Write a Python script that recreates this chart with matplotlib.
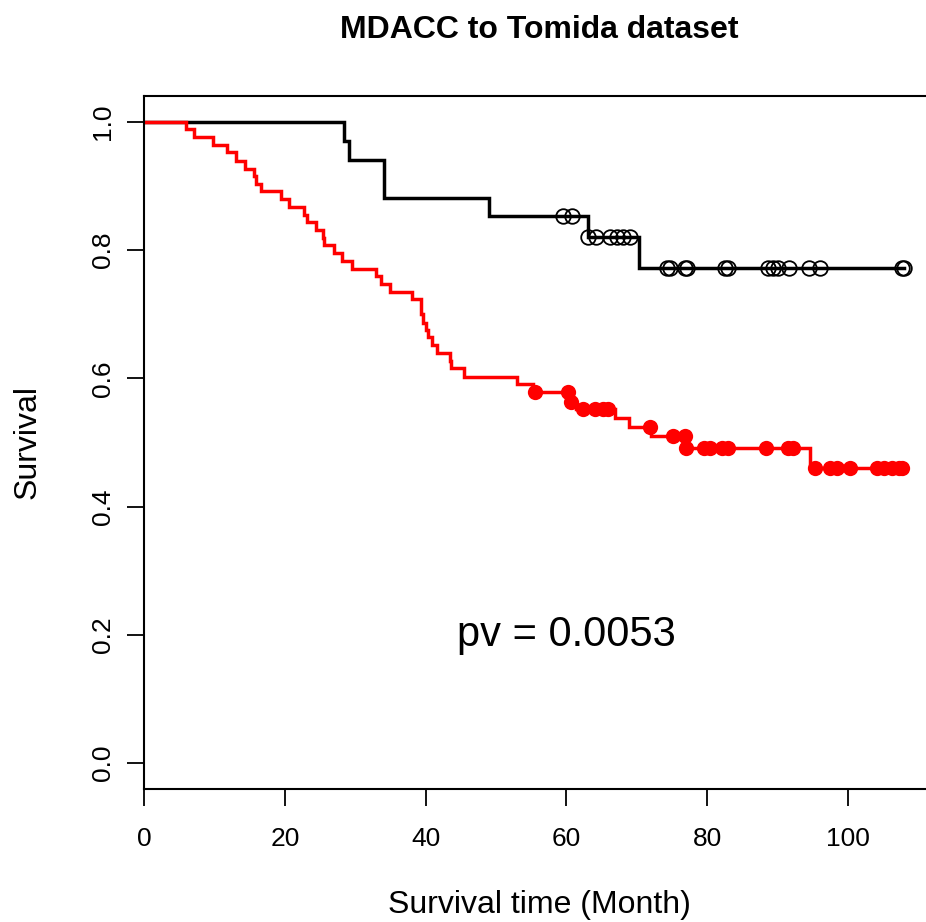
import numpy as np
import matplotlib
matplotlib.use("Agg")
import matplotlib.pyplot as plt

plt.rcParams['font.family'] = ['Liberation Sans', 'DejaVu Sans']

# ---- data ----
black_times = [0, 28.4, 29.1, 34.1, 49.0, 63.0, 70.3]
black_surv = [1.0, 0.970, 0.941, 0.882, 0.853, 0.821, 0.772]
black_censor = [59.5, 60.8, 63.1, 64.2, 66.2, 67.2, 68.0, 69.0,
                74.3, 74.7, 76.8, 77.1, 82.5, 82.9, 88.6, 89.3, 90.1,
                91.6, 94.5, 96.0, 107.6, 107.9]

red_times = [0, 5.9, 7.1, 9.85, 11.8, 13.0, 14.4, 15.6, 15.9, 16.6, 19.4,
             20.6, 22.7, 23.1, 24.4, 25.4, 25.6, 27.0, 28.1, 29.6, 33.0,
             33.6, 35.0, 38.1, 39.3, 39.6, 40.0, 40.3, 40.9, 41.6, 43.4,
             43.6, 45.5, 53.0, 55.3, 60.5, 61.3, 66.9, 68.9, 72.0, 76.9, 94.6]
red_surv = [1.0, 0.9886, 0.9766, 0.964, 0.9526, 0.9396, 0.927, 0.9158, 0.904,
            0.893, 0.880, 0.868, 0.855, 0.8435, 0.8315, 0.8195, 0.8077, 0.795,
            0.783, 0.771, 0.760, 0.747, 0.735, 0.7234, 0.700, 0.687, 0.6755,
            0.664, 0.6516, 0.640, 0.627, 0.6157, 0.6026, 0.591, 0.579, 0.5637,
            0.552, 0.5377, 0.5246, 0.510, 0.491, 0.460]
red_censor = [55.6, 60.2, 60.7, 62.4, 64.1, 65.2, 65.9, 71.8, 75.2, 76.8,
              77.0, 79.5, 80.4, 82.1, 82.9, 88.4, 91.5, 92.2, 95.3, 97.4,
              98.4, 100.2, 104.1, 105.1, 106.3, 107.2, 107.6]

x_ticks = [0, 20, 40, 60, 80, 100]
y_ticks = [0.0, 0.2, 0.4, 0.6, 0.8, 1.0]
title = "MDACC to Tomida dataset"
xlabel = "Survival time (Month)"
ylabel = "Survival"
pv_text = "pv = 0.0053"


def surv_at(times, surv, t):
    idx = np.searchsorted(np.asarray(times), np.asarray(t), side='right') - 1
    return np.asarray(surv)[idx]


W, H = 926, 922
fig = plt.figure(figsize=(W / 100, H / 100), dpi=100)
ax = fig.add_axes([144 / W, 1 - 789 / H, 790.7 / W, (789 - 96) / H])

for times, surv, cens, col, filled in [
        (black_times, black_surv, black_censor, 'black', False),
        (red_times, red_surv, red_censor, '#ff0000', True)]:
    t_end = max(cens)
    tt = list(times) + [t_end]
    ss = list(surv) + [surv[-1]]
    ax.step(tt, ss, where='post', color=col, lw=2.5, solid_joinstyle='miter')
    cy = surv_at(times, surv, cens)
    if filled:
        ax.plot(cens, cy, 'o', color=col, ms=11, mew=0, linestyle='none')
    else:
        ax.plot(cens, cy, 'o', mfc='none', mec=col, ms=10.5, mew=1.3,
                linestyle='none')

ax.set_xlim(0, 112.3)
ax.set_ylim(-0.0406, 1.0406)
ax.set_xticks(x_ticks)
ax.set_xticklabels([str(v) for v in x_ticks])
ax.set_yticks(y_ticks)
ax.set_yticklabels([f"{v:.1f}" for v in y_ticks], rotation=90, va='center')
ax.tick_params(axis='both', direction='out', length=12, width=1.3,
               labelsize=19, color='black')
ax.tick_params(axis='x', pad=15)
ax.tick_params(axis='y', pad=9)
for sp in ax.spines.values():
    sp.set_linewidth(1.5)

ax.text(60.0, 0.2, pv_text, fontsize=30, ha='center', va='center')

fig.text((144 + 934.7) / 2 / W, 1 - 30 / H, title, fontsize=23,
         fontweight='bold', ha='center', va='center')
fig.text((144 + 934.7) / 2 / W, 1 - 905 / H, xlabel, fontsize=23,
         ha='center', va='center')
fig.text(28 / W, 1 - 442 / H, ylabel, fontsize=23, rotation=90,
         ha='center', va='center')

fig.savefig("out.png", dpi=100)
